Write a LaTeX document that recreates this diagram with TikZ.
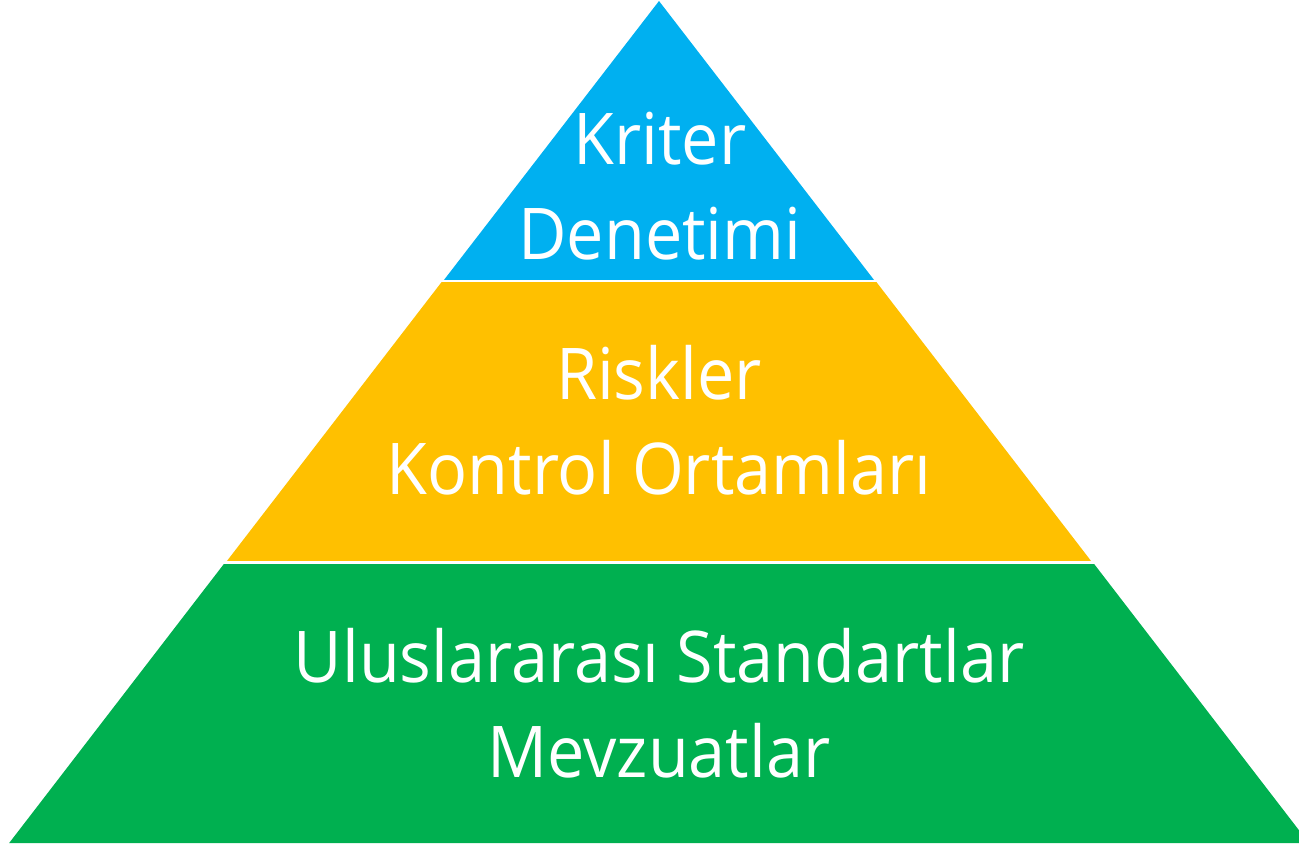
\documentclass[tikz,border=0pt]{standalone}
\usepackage{fontspec}
\setmainfont[FakeStretch=0.932]{Open Sans}
\definecolor{pblue}{HTML}{00B0F0}
\definecolor{porange}{HTML}{FFC000}
\definecolor{pgreen}{HTML}{00B050}
\begin{document}
\begin{tikzpicture}[x=1pt,y=-1pt,
  lbl/.style={text=white,anchor=base,inner sep=0pt,font=\fontsize{71.4}{95}\selectfont},
  gap/.style={draw=white,line width=2.5pt}]
\useasboundingbox (0,0) rectangle (1299,846);
\begin{scope}
\clip (0,0) rectangle (1299,846);
% layers (left x = 659 - 0.7708 y, right x = 659 + 0.7708 y)
\fill[pblue] (659,1) -- (442.4,282) -- (875.6,282) -- cycle;
\fill[porange] (442.4,281) -- (875.6,281) -- (1092.6,563) -- (225.4,563) -- cycle;
\fill[pgreen] (225.4,562) -- (1092.6,562) -- (1308.8,843) -- (9.2,843) -- cycle;
\draw[gap] (400,281) -- (920,281);
\draw[gap] (200,562.5) -- (1120,562.5);
\end{scope}
\node[lbl] (t1) at (660,164) {Kriter};
\node[lbl] (t2) at (660,259) {Denetimi};
\node[lbl] (t3) at (659,399) {Riskler};
\node[lbl] (t4) at (659,494) {Kontrol Ortamları};
\node[lbl] (t5) at (659,682) {Uluslararası Standartlar};
\node[lbl] (t6) at (659,777) {Mevzuatlar};
\end{tikzpicture}
\end{document}
